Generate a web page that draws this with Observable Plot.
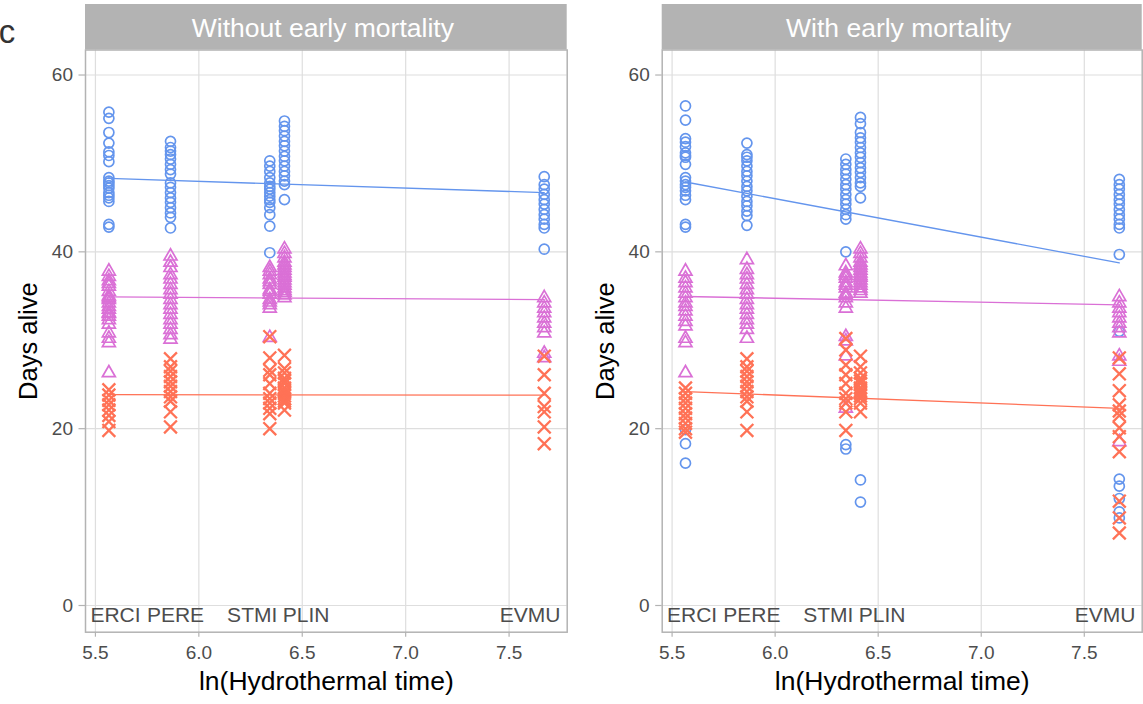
<!DOCTYPE html>
<html>
<head>
<meta charset="utf-8">
<script src="https://cdn.jsdelivr.net/npm/d3@7"></script>
<script src="https://cdn.jsdelivr.net/npm/@observablehq/plot@0.6"></script>
<style>
  html, body { margin: 0; padding: 0; background: #fff; }
  #chart { display: flex; width: 1143px; height: 704px; }
</style>
</head>
<body>
<div id="chart"></div>
<script>
// ---------- DATA ----------
const species = ["ERCI", "PERE", "STMI", "PLIN", "EVMU"];
const lnHT = [5.565, 5.863, 6.343, 6.414, 7.670];        // ln(Hydrothermal time) of each species
const labelX = [5.597, 5.887, 6.258, 6.519, 7.601];      // where the species names sit
const labelDays = 0;
const panelTitles = ["Without early mortality", "With early mortality"];
const xTicks = [5.5, 6.0, 6.5, 7.0, 7.5];
const yTicks = [0, 20, 40, 60];
const groupNames = ["Group 1", "Group 2", "Group 3"];
const groupColors = ["#6495ED", "#DA70D6", "#FF7256"];
const groupSymbols = ["circle", "triangle2", "times"];

// Without early mortality: days alive per species (ERCI, PERE, STMI, PLIN, EVMU)
const noMortG1 = [
  [55.8, 55.1, 53.5, 52.3, 51.3, 50.9, 50.2, 48.4, 48.0, 47.8, 47.5, 47.2, 46.7, 46.4, 46.1, 45.7, 43.1, 42.8],
  [52.5, 51.8, 51.4, 51.0, 50.5, 49.9, 49.3, 48.8, 47.8, 47.3, 46.7, 46.1, 45.6, 45.0, 44.4, 43.9, 42.7],
  [50.3, 49.7, 49.1, 48.4, 47.8, 47.4, 47.1, 46.7, 46.3, 45.9, 45.6, 45.0, 44.2, 42.9, 39.9],
  [54.8, 54.2, 53.7, 53.1, 52.5, 52.0, 51.4, 50.8, 50.3, 49.7, 49.1, 48.6, 48.0, 47.6, 45.9],
  [48.5, 47.6, 47.1, 46.5, 45.9, 45.4, 44.8, 44.2, 43.7, 43.1, 42.7, 40.3]
];
const noMortG2 = [
  [37.8, 37.2, 36.7, 36.4, 36.1, 35.5, 35.0, 34.8, 34.6, 34.2, 33.8, 33.5, 33.1, 33.0, 32.7, 32.3, 31.8, 30.8, 30.2, 29.7, 26.3],
  [39.5, 38.8, 38.2, 37.4, 36.9, 36.3, 35.7, 35.2, 34.6, 34.0, 33.5, 32.9, 32.3, 31.8, 31.2, 30.6, 30.1],
  [38.2, 37.8, 37.4, 36.9, 36.6, 36.3, 35.7, 35.5, 35.2, 34.6, 34.3, 34.0, 33.6, 30.3],
  [40.3, 39.8, 39.3, 38.8, 38.5, 38.2, 37.9, 37.6, 37.3, 37.1, 36.8, 36.5, 36.2, 35.9, 35.6, 35.4, 35.1, 34.8],
  [34.8, 34.2, 33.6, 33.1, 32.5, 31.9, 31.4, 30.8, 28.5, 28.0]
];
const noMortG3 = [
  [24.4, 23.8, 23.2, 22.7, 22.1, 21.5, 20.8, 19.8],
  [27.9, 27.0, 26.5, 25.9, 25.3, 24.8, 24.2, 23.6, 23.1, 21.9, 20.2],
  [30.4, 28.0, 26.6, 26.1, 25.1, 24.0, 23.4, 22.9, 22.3, 21.7, 20.0],
  [28.3, 26.8, 26.3, 25.7, 25.4, 25.1, 24.6, 24.3, 24.0, 23.7, 23.4, 23.1, 22.9, 22.1],
  [28.2, 26.1, 24.0, 22.5, 21.9, 20.2, 18.3]
];
const noMortFit = [[48.3, 46.7], [34.9, 34.6], [23.85, 23.8]]; // fitted value at ERCI and EVMU

// With early mortality
const mortG1 = [
  [56.5, 54.9, 52.8, 52.4, 51.9, 51.2, 50.9, 50.7, 49.9, 48.4, 48.0, 47.6, 47.3, 46.9, 46.4, 45.9, 43.1, 42.8, 19.9, 18.3, 16.1],
  [52.3, 51.0, 50.7, 50.3, 49.7, 49.1, 48.6, 48.0, 47.4, 46.9, 46.3, 45.7, 45.2, 44.6, 44.1, 43.0],
  [50.5, 49.9, 49.3, 48.8, 48.2, 47.6, 47.1, 46.5, 45.9, 45.4, 44.8, 44.2, 43.7, 40.0, 18.2, 17.7],
  [55.2, 54.5, 53.5, 52.9, 52.4, 51.8, 51.2, 50.7, 50.1, 49.5, 49.0, 48.4, 47.8, 47.4, 46.1, 14.2, 11.7],
  [48.2, 47.6, 47.1, 46.5, 45.9, 45.4, 44.8, 44.2, 43.7, 43.1, 42.7, 39.7, 31.0, 14.3, 13.5, 12.1, 10.6, 9.9]
];
const mortG2 = [
  [37.8, 37.0, 36.5, 35.9, 35.3, 34.8, 34.2, 33.8, 33.3, 32.7, 32.1, 31.6, 30.2, 29.7, 26.3],
  [39.1, 38.0, 37.4, 36.9, 36.3, 35.7, 35.2, 34.6, 34.0, 33.5, 32.9, 32.3, 31.8, 31.2, 30.2],
  [38.4, 37.6, 37.3, 37.0, 36.5, 36.2, 35.9, 35.3, 35.1, 34.8, 34.2, 33.6, 30.4, 29.9, 28.2, 22.3],
  [40.3, 39.8, 39.3, 38.8, 38.5, 38.2, 37.9, 37.6, 37.3, 37.1, 36.8, 36.5, 36.2, 35.9, 35.6, 35.3],
  [34.9, 34.2, 33.6, 33.1, 32.5, 31.9, 31.4, 30.8, 28.2, 27.6, 18.5]
];
const mortG3 = [
  [24.6, 24.0, 23.4, 22.9, 22.3, 21.7, 21.2, 20.6, 20.0, 19.6],
  [27.9, 27.0, 26.5, 25.9, 25.3, 24.8, 24.2, 23.6, 23.1, 21.9, 19.8],
  [30.2, 28.9, 27.2, 26.1, 25.1, 24.0, 23.4, 22.9, 21.9, 19.8],
  [28.2, 27.0, 26.3, 25.7, 25.4, 25.1, 24.6, 24.3, 24.0, 23.7, 23.4, 22.9, 21.9],
  [28.0, 26.2, 24.3, 22.7, 22.0, 21.5, 20.1, 19.1, 17.4, 11.8, 9.9, 8.2]
];
const mortFit = [[47.9, 38.75], [34.95, 34.0], [24.2, 22.3]];

// ---------- BUILD ----------
const FONT = "'Liberation Sans', Arial, Helvetica, sans-serif";
const GREY70 = "#b3b3b3", GREY87 = "#dedede", GREY30 = "#4d4d4d";

function toRows(seriesList) {
  return seriesList.flatMap((series, g) =>
    series.flatMap((vals, i) => vals.map(v => ({x: lnHT[i], y: v, g, species: species[i]}))));
}
function fitRows(fit) {
  return fit.flatMap((ends, g) => [
    {x: lnHT[0], y: ends[0], g},
    {x: lnHT[lnHT.length - 1], y: ends[1], g}
  ]);
}

function strip(title, withTag) {
  return (index, scales, values, dims) => {
    const g = d3.create("svg:g");
    const x0 = dims.marginLeft, w = dims.width - dims.marginLeft - dims.marginRight;
    g.append("rect").attr("x", x0).attr("y", 4).attr("width", w)
      .attr("height", dims.marginTop - 4).attr("fill", GREY70);
    g.append("text").attr("x", x0 + w / 2 - 3).attr("y", 37)
      .attr("text-anchor", "middle").attr("fill", "white")
      .attr("font-size", 26.5).attr("font-family", FONT).text(title);
    if (withTag) {
      g.append("text").attr("x", 7).attr("y", 43.3).attr("fill", "#333")
        .attr("font-size", 33).attr("font-family", FONT).text("c");
    }
    return g.node();
  };
}

function panel(title, seriesList, fit, opts) {
  const rows = toRows(seriesList);
  const lines = fitRows(fit);
  const marks = [
    Plot.gridX(xTicks, {stroke: GREY87, strokeOpacity: 1, strokeWidth: 1.2}),
    Plot.gridY(yTicks, {stroke: GREY87, strokeOpacity: 1, strokeWidth: 1.2}),
    Plot.frame({stroke: GREY70, strokeWidth: 1.5})
  ];
  // points: circles, triangles, crosses
  [0, 1, 2].forEach(gi => {
    marks.push(Plot.dot(rows.filter(d => d.g === gi), {
      x: "x", y: "y", symbol: () => groupSymbols[gi],
      stroke: groupColors[gi], fill: "none",
      r: gi === 0 ? 5.0 : gi === 1 ? 6.2 : 5.9,
      strokeWidth: gi === 2 ? 2.3 : 1.7
    }));
  });
  [0, 1, 2].forEach(gi => {
    marks.push(Plot.line(lines.filter(d => d.g === gi), {
      x: "x", y: "y", stroke: groupColors[gi], strokeWidth: 1.3
    }));
  });
  marks.push(
    Plot.text(species, {x: (d, i) => labelX[i], y: () => labelDays, text: d => d,
      lineAnchor: "top", dy: 2, fontSize: 21, fill: GREY30}),
    Plot.axisX(xTicks, {tickFormat: d => d.toFixed(1), tickSize: 5, tickPadding: 8,
      fontSize: 19, stroke: GREY70, fill: GREY30, label: null, strokeWidth: 1.2}),
    Plot.axisY(yTicks, {tickSize: 6.5, tickPadding: 6, fontSize: 19,
      stroke: GREY70, fill: GREY30, label: null, strokeWidth: 1.2}),
    Plot.text(["ln(Hydrothermal time)"], {frameAnchor: "bottom", dy: 58, lineAnchor: "bottom",
      textAnchor: "middle", text: d => d, fontSize: 26.5, fill: "black"}),
    Plot.text(["Days alive"], {frameAnchor: "left", dx: -56.5, rotate: -90, text: d => d,
      textAnchor: "middle", lineAnchor: "middle", fontSize: 25.5, fill: "black"}),
    strip(title, opts.tag)
  );
  return Plot.plot({
    width: opts.width, height: 704,
    marginLeft: opts.ml, marginRight: opts.mr, marginTop: 49.5, marginBottom: 72.3,
    style: {fontFamily: FONT, background: "white", overflow: "visible"},
    x: {domain: [5.452, 7.781]},
    y: {domain: [-3.02, 62.83]},
    symbol: {type: "identity"},
    marks
  });
}

const chart = document.getElementById("chart");
chart.appendChild(panel(panelTitles[0], [noMortG1, noMortG2, noMortG3], noMortFit,
  {width: 571, ml: 85, mr: 4.3, tag: true}));
chart.appendChild(panel(panelTitles[1], [mortG1, mortG2, mortG3], mortFit,
  {width: 572, ml: 90.7, mr: 1.3, tag: false}));
</script>
</body>
</html>
